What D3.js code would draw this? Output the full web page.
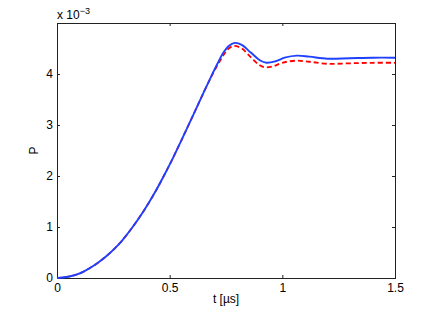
<!DOCTYPE html>
<html lang="en">
<head>
<meta charset="utf-8">
<title>P vs t</title>
<script type="text/javascript" src="https://cdnjs.cloudflare.com/ajax/libs/d3/7.8.5/d3.min.js"></script>
<style>
body { margin: 0; background: #fff; }
text { font-family: "Liberation Sans", Arial, sans-serif; font-size: 12px; fill: #000; }
.frame { fill: none; stroke: #222; stroke-width: 1; }
.tick line { stroke: #222; }
</style>
</head>
<body>
<div id="chart"></div>
<script type="text/javascript">

// time in microseconds, P in units of 1e-3
var tBlue = [0, 0.05, 0.0857, 0.12, 0.174, 0.22, 0.263, 0.288, 0.33, 0.384, 0.44, 0.488, 0.51, 0.55, 0.606, 0.65, 0.684, 0.713, 0.74, 0.765, 0.79, 0.82, 0.86, 0.9, 0.93, 0.97, 1.01, 1.065, 1.12, 1.2, 1.3, 1.4, 1.5];
var pBlue = [0, 0.025, 0.065, 0.13, 0.275, 0.43, 0.61, 0.73, 0.965, 1.31, 1.72, 2.12, 2.31, 2.68, 3.21, 3.63, 3.95, 4.21, 4.43, 4.56, 4.61, 4.57, 4.42, 4.27, 4.22, 4.25, 4.32, 4.36, 4.34, 4.30, 4.31, 4.32, 4.32];

var tRed = [0, 0.05, 0.0857, 0.12, 0.174, 0.22, 0.263, 0.288, 0.33, 0.384, 0.44, 0.488, 0.51, 0.55, 0.606, 0.65, 0.684, 0.713, 0.74, 0.762, 0.785, 0.82, 0.86, 0.9, 0.925, 0.96, 1.0, 1.058, 1.12, 1.2, 1.3, 1.4, 1.5];
var pRed = [0, 0.025, 0.065, 0.13, 0.275, 0.43, 0.61, 0.73, 0.965, 1.31, 1.72, 2.12, 2.31, 2.68, 3.21, 3.63, 3.94, 4.18, 4.38, 4.50, 4.55, 4.50, 4.33, 4.17, 4.13, 4.15, 4.22, 4.26, 4.24, 4.20, 4.21, 4.22, 4.22];

var xTicks = [0, 0.5, 1, 1.5];
var yTicks = [0, 1, 2, 3, 4];

var margin = {top: 23, right: 41, bottom: 34, left: 57},
    width = 436 - margin.left - margin.right,
    height = 312 - margin.top - margin.bottom;

var svg = d3.select("#chart").append("svg")
    .attr("width", 436)
    .attr("height", 312);

var root = svg.append("g")
    .attr("transform", "translate(" + margin.left + "," + margin.top + ")");

var x = d3.scaleLinear().domain([0, 1.5]).range([0, width]);
var y = d3.scaleLinear().domain([0, 5]).range([height, 0]);

var fmt = function(d) { return String(d); };

// axes, ticks pointing inward (matlab style)
root.append("g")
    .attr("class", "axis")
    .attr("transform", "translate(0," + height + ")")
    .call(d3.axisBottom(x).tickValues(xTicks).tickFormat(fmt).tickSizeInner(-3).tickSizeOuter(0).tickPadding(5))
    .call(g => g.select(".domain").remove());

root.append("g")
    .attr("class", "axis")
    .call(d3.axisTop(x).tickValues(xTicks).tickFormat("").tickSizeInner(-3).tickSizeOuter(0))
    .call(g => g.select(".domain").remove());

root.append("g")
    .attr("class", "axis")
    .call(d3.axisLeft(y).tickValues(yTicks).tickFormat(fmt).tickSizeInner(-3).tickSizeOuter(0).tickPadding(4))
    .call(g => g.select(".domain").remove());

root.append("g")
    .attr("class", "axis")
    .attr("transform", "translate(" + width + ",0)")
    .call(d3.axisRight(y).tickValues(yTicks).tickFormat("").tickSizeInner(-3).tickSizeOuter(0))
    .call(g => g.select(".domain").remove());

root.selectAll(".axis text")
    .style("font-family", "'Liberation Sans', Arial, sans-serif")
    .style("font-size", "12px")
    .style("fill", "#000");

root.append("rect")
    .attr("class", "frame")
    .attr("x", 0.5)
    .attr("y", 0.5)
    .attr("width", width)
    .attr("height", height);

var line = d3.line()
    .x(d => x(d[0]))
    .y(d => y(d[1]))
    .curve(d3.curveCatmullRom.alpha(0.5));

var plot = root.append("g");

plot.append("path")
    .datum(tRed.map((t, i) => [t, pRed[i]]))
    .attr("d", line)
    .attr("fill", "none")
    .attr("stroke", "#ff0000")
    .attr("stroke-width", 1.8)
    .attr("stroke-dasharray", "5,3");

plot.append("path")
    .datum(tBlue.map((t, i) => [t, pBlue[i]]))
    .attr("d", line)
    .attr("fill", "none")
    .attr("stroke", "#2040ff")
    .attr("stroke-width", 1.9);

// labels
svg.append("text")
    .attr("x", margin.left + width / 2)
    .attr("y", 303)
    .attr("text-anchor", "middle")
    .text("t [\u00b5s]");

svg.append("text")
    .attr("transform", "translate(38," + (margin.top + height / 2) + ") rotate(-90)")
    .attr("text-anchor", "middle")
    .text("P");

var expo = svg.append("text")
    .attr("x", margin.left)
    .attr("y", 19);
expo.append("tspan").text("x 10");
expo.append("tspan")
    .attr("dy", -5)
    .style("font-size", "9px")
    .text("\u22123");

</script>
</body>
</html>
